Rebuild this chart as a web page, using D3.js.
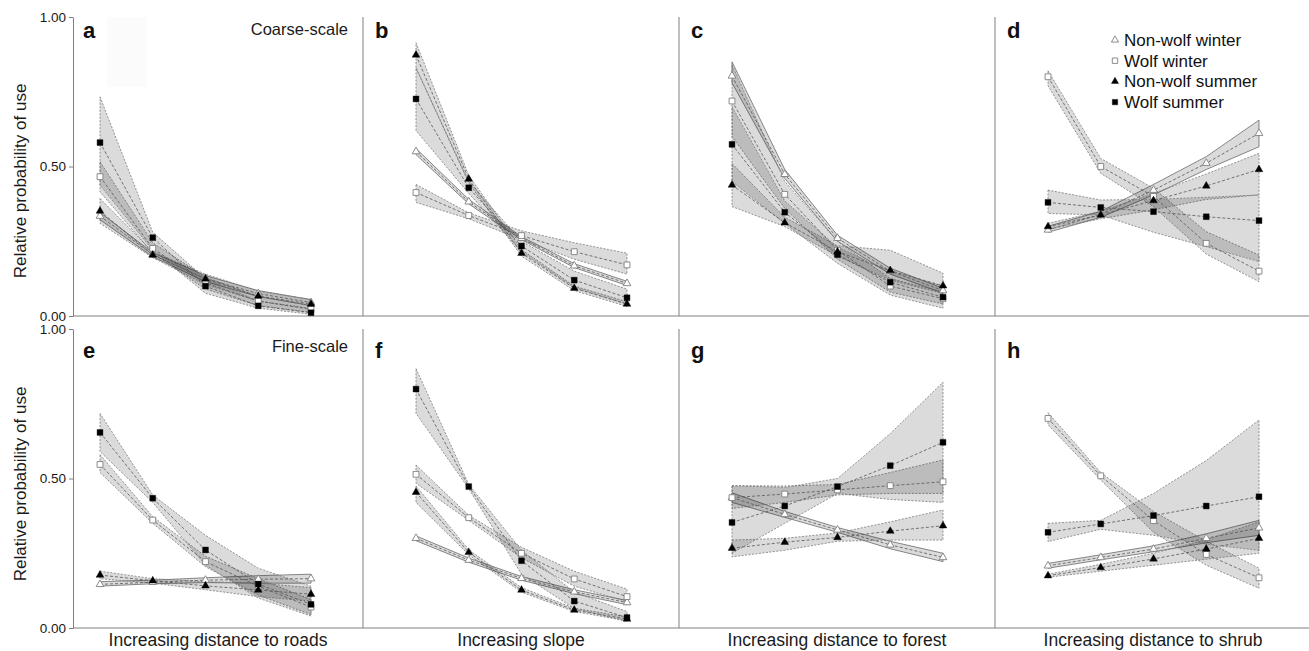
<!DOCTYPE html>
<html>
<head>
<meta charset="utf-8">
<script src="https://cdn.jsdelivr.net/npm/d3@7"></script>
<style>
body{margin:0;background:#fff;}
svg{font-family:"Liberation Sans",Arial,sans-serif;}
</style>
</head>
<body>
<div id="main_div" style="width:1309px;height:651px"></div>
<script>
// series order: Non-wolf winter, Wolf winter, Non-wolf summer, Wolf summer
let seriesNames=["Non-wolf winter","Wolf winter","Non-wolf summer","Wolf summer"];
let steps=[1,2,3,4,5];
let yTicks=[0,0.5,1];
let panelLetters=["a","b","c","d","e","f","g","h"];
let xTitles=["Increasing distance to roads","Increasing slope","Increasing distance to forest","Increasing distance to shrub"];
let scaleLabels=["Coarse-scale","Fine-scale"];

let meanA=[[0.334,0.205,0.125,0.075,0.045],[0.466,0.226,0.11,0.05,0.022],[0.351,0.204,0.124,0.067,0.04],[0.58,0.262,0.10,0.034,0.011]];
let lowA=[[0.322,0.198,0.115,0.065,0.035],[0.415,0.21,0.09,0.035,0.012],[0.31,0.195,0.105,0.05,0.025],[0.438,0.22,0.076,0.026,0.006]];
let highA=[[0.346,0.212,0.135,0.085,0.055],[0.516,0.245,0.13,0.065,0.035],[0.393,0.215,0.14,0.083,0.055],[0.733,0.28,0.125,0.05,0.025]];

let meanB=[[0.55,0.382,0.26,0.168,0.109],[0.413,0.336,0.269,0.215,0.171],[0.873,0.458,0.21,0.093,0.04],[0.726,0.429,0.234,0.12,0.061]];
let lowB=[[0.54,0.375,0.255,0.162,0.102],[0.38,0.325,0.255,0.19,0.14],[0.83,0.445,0.2,0.085,0.032],[0.62,0.41,0.215,0.095,0.04]];
let highB=[[0.56,0.39,0.265,0.175,0.116],[0.44,0.345,0.285,0.245,0.21],[0.914,0.47,0.222,0.1,0.048],[0.83,0.45,0.25,0.15,0.09]];

let meanC=[[0.803,0.474,0.26,0.15,0.085],[0.719,0.407,0.22,0.10,0.058],[0.438,0.312,0.215,0.152,0.101],[0.574,0.347,0.205,0.113,0.063]];
let lowC=[[0.78,0.46,0.25,0.14,0.077],[0.60,0.36,0.19,0.08,0.04],[0.366,0.299,0.2,0.12,0.075],[0.45,0.31,0.176,0.07,0.026]];
let highC=[[0.85,0.49,0.27,0.16,0.093],[0.84,0.45,0.25,0.125,0.08],[0.51,0.33,0.235,0.22,0.143],[0.70,0.385,0.23,0.15,0.1]];

let meanD=[[0.288,0.34,0.421,0.511,0.611],[0.80,0.50,0.40,0.243,0.15],[0.299,0.338,0.386,0.435,0.49],[0.38,0.363,0.349,0.332,0.319]];
let lowD=[[0.28,0.33,0.405,0.49,0.566],[0.77,0.477,0.366,0.207,0.115],[0.29,0.325,0.355,0.39,0.405],[0.343,0.338,0.28,0.232,0.182]];
let highD=[[0.30,0.35,0.44,0.533,0.655],[0.82,0.527,0.427,0.282,0.204],[0.31,0.35,0.41,0.475,0.544],[0.421,0.388,0.39,0.397,0.405]];

let meanE=[[0.146,0.153,0.16,0.163,0.165],[0.547,0.361,0.222,0.14,0.07],[0.177,0.158,0.141,0.127,0.113],[0.654,0.434,0.261,0.147,0.079]];
let lowE=[[0.14,0.148,0.152,0.15,0.15],[0.52,0.35,0.205,0.11,0.045],[0.165,0.15,0.128,0.105,0.09],[0.59,0.42,0.21,0.10,0.04]];
let highE=[[0.155,0.16,0.168,0.175,0.18],[0.58,0.372,0.24,0.165,0.095],[0.19,0.165,0.155,0.15,0.135],[0.718,0.445,0.31,0.20,0.14]];

let meanF=[[0.30,0.227,0.166,0.121,0.085],[0.514,0.369,0.25,0.164,0.105],[0.454,0.253,0.127,0.06,0.03],[0.799,0.473,0.225,0.09,0.035]];
let lowF=[[0.292,0.22,0.16,0.115,0.078],[0.484,0.36,0.235,0.14,0.088],[0.42,0.245,0.12,0.055,0.024],[0.718,0.466,0.18,0.065,0.022]];
let highF=[[0.308,0.234,0.172,0.128,0.092],[0.545,0.377,0.27,0.19,0.13],[0.475,0.262,0.135,0.066,0.037],[0.868,0.48,0.26,0.12,0.055]];

let meanG=[[0.436,0.38,0.328,0.278,0.236],[0.436,0.448,0.462,0.476,0.489],[0.267,0.287,0.303,0.324,0.342],[0.353,0.408,0.473,0.543,0.621]];
let lowG=[[0.42,0.37,0.32,0.265,0.222],[0.40,0.42,0.445,0.45,0.45],[0.238,0.26,0.29,0.294,0.294],[0.25,0.35,0.45,0.43,0.42]];
let highG=[[0.452,0.39,0.336,0.29,0.25],[0.476,0.475,0.48,0.52,0.562],[0.294,0.30,0.318,0.355,0.395],[0.476,0.47,0.50,0.65,0.822]];

let meanH=[[0.208,0.236,0.264,0.30,0.335],[0.701,0.509,0.359,0.246,0.168],[0.175,0.202,0.231,0.264,0.30],[0.32,0.348,0.376,0.408,0.439]];
let lowH=[[0.2,0.228,0.255,0.285,0.31],[0.68,0.495,0.32,0.21,0.133],[0.17,0.19,0.21,0.23,0.25],[0.289,0.33,0.31,0.28,0.26]];
let highH=[[0.216,0.245,0.275,0.315,0.36],[0.72,0.52,0.39,0.29,0.20],[0.18,0.213,0.25,0.295,0.355],[0.35,0.36,0.45,0.56,0.696]];

let means=[meanA,meanB,meanC,meanD,meanE,meanF,meanG,meanH];
let lows=[lowA,lowB,lowC,lowD,lowE,lowF,lowG,lowH];
let highs=[highA,highB,highC,highD,highE,highF,highG,highH];

/** layout */
let colLeft=[47,363,679,995];
let colWidth=316;
let axisX=73;
let rowTop=[17,329];
let rowBottom=[316,628];

let svg;

createSVG();
drawFrame();
for(let p=0;p<8;p++) drawPanel(p);
drawLegend();

function createSVG(){
    svg=d3.select("#main_div")
        .append("svg")
        .attr("width",1309)
        .attr("height",651);
    // faint scan artifact box in panel a
    svg.append("rect")
        .attr("x",107).attr("y",17).attr("width",40).attr("height",70)
        .attr("fill","#fbfbfb");
}

function yScaleFor(row){
    return d3.scaleLinear().domain([0,1]).range([rowBottom[row],rowTop[row]]);
}

function xScaleFor(col){
    return d3.scalePoint().domain(steps).range([colLeft[col]+53,colLeft[col]+264]);
}

function drawFrame(){
    for(let row=0;row<2;row++){
        let y=yScaleFor(row);
        /** y axis */
        let yAxis=d3.axisLeft(y).tickValues(yTicks).tickFormat(d3.format(".2f")).tickSize(4).tickSizeOuter(0);
        let g=svg.append("g")
            .attr("class","axis")
            .attr("transform","translate("+axisX+",0)")
            .call(yAxis);
        g.select(".domain").attr("stroke","#808080");
        g.selectAll(".tick line").attr("stroke","#808080");
        g.selectAll(".tick text")
            .attr("fill","#1a1a1a")
            .style("font-size","13.5px")
            .style("font-family","'Liberation Sans',Arial,sans-serif");

        /** baseline across all panels */
        svg.append("line")
            .attr("x1",axisX).attr("x2",1309)
            .attr("y1",rowBottom[row]).attr("y2",rowBottom[row])
            .attr("stroke","#808080").attr("stroke-width",1);

        /** panel dividers */
        for(let c=1;c<4;c++){
            svg.append("line")
                .attr("x1",colLeft[c]).attr("x2",colLeft[c])
                .attr("y1",rowTop[row]).attr("y2",rowBottom[row])
                .attr("stroke","#808080").attr("stroke-width",1);
        }

        /** y title */
        let cy=row==0?181:484;
        svg.append("text")
            .text("Relative probability of use")
            .attr("transform","translate(26,"+cy+") rotate(-90)")
            .attr("text-anchor","middle")
            .attr("fill","#1a1a1a")
            .style("font-size","17px");

        /** scale label */
        svg.append("text")
            .text(scaleLabels[row])
            .attr("x",348)
            .attr("y",row==0?35:352)
            .attr("text-anchor","end")
            .attr("fill","#1a1a1a")
            .style("font-size","16.5px");
    }

    /** x titles */
    for(let c=0;c<4;c++){
        let cx=c==0?(axisX+colLeft[1])/2:colLeft[c]+colWidth/2;
        svg.append("text")
            .text(xTitles[c])
            .attr("x",cx)
            .attr("y",646)
            .attr("text-anchor","middle")
            .attr("fill","#1a1a1a")
            .style("font-size","17.5px");
    }
}

function drawPanel(p){
    let row=Math.floor(p/4), col=p%4;
    let x=xScaleFor(col), y=yScaleFor(row);
    let plot=svg.append("g").attr("id","panel_"+panelLetters[p]);

    let band=d3.area()
        .x(function(d,i){return x(steps[i])})
        .y0(function(d){return y(d[0])})
        .y1(function(d){return y(d[1])});
    let line=d3.line()
        .x(function(d,i){return x(steps[i])})
        .y(function(d){return y(d)});

    /** confidence bands */
    for(let s=0;s<4;s++){
        let pairs=lows[p][s].map(function(v,i){return [v,highs[p][s][i]]});
        plot.append("path")
            .attr("d",band(pairs)+"Z")
            .attr("fill","#000")
            .attr("fill-opacity",0.14)
            .attr("stroke",s==0?"#6a6a6a":"#7a7a7a")
            .attr("stroke-width",0.8)
            .attr("stroke-dasharray",s==0?null:"2,1.5");
    }

    /** mean lines */
    for(let s=0;s<4;s++){
        plot.append("path")
            .attr("d",line(means[p][s]))
            .attr("fill","none")
            .attr("stroke","#555")
            .attr("stroke-width",0.8)
            .attr("stroke-dasharray","3,2");
    }

    /** markers */
    for(let s=0;s<4;s++){
        plot.selectAll(".m"+s)
            .data(means[p][s])
            .enter()
            .append("path")
            .attr("class","m"+s)
            .attr("transform",function(d,i){return "translate("+x(steps[i])+","+y(d)+")"})
            .attr("d",markerPath(s,1));
    }
    styleMarkers(plot);

    /** panel letter */
    svg.append("text")
        .text(panelLetters[p])
        .attr("x",col==0?83:colLeft[col]+12)
        .attr("y",row==0?38:358)
        .attr("fill","#111")
        .style("font-size","22px")
        .style("font-weight","bold");
}

function markerPath(s,k){
    let tri=s==0||s==2;
    return d3.symbol().type(tri?d3.symbolTriangle:d3.symbolSquare).size((tri?26:34)*k)();
}

function styleMarkers(g){
    g.selectAll(".m0,.m1")
        .attr("fill","#fff")
        .attr("stroke","#808080")
        .attr("stroke-width",0.9);
    g.selectAll(".m2,.m3")
        .attr("fill","#000")
        .attr("stroke","#000")
        .attr("stroke-width",0.4);
}

function drawLegend(){
    let lg=svg.append("g").attr("id","legend");
    let rows=lg.selectAll("g")
        .data(seriesNames)
        .enter()
        .append("g")
        .attr("transform",function(d,i){return "translate(1115,"+(40+i*20.7)+")"});
    rows.append("path")
        .attr("class",function(d,i){return "m"+i})
        .attr("d",function(d,i){return markerPath(i,0.85)});
    rows.append("text")
        .text(function(d){return d})
        .attr("x",9)
        .attr("y",6)
        .attr("fill","#111")
        .style("font-size","17px");
    styleMarkers(lg);
}
</script>
</body>
</html>
